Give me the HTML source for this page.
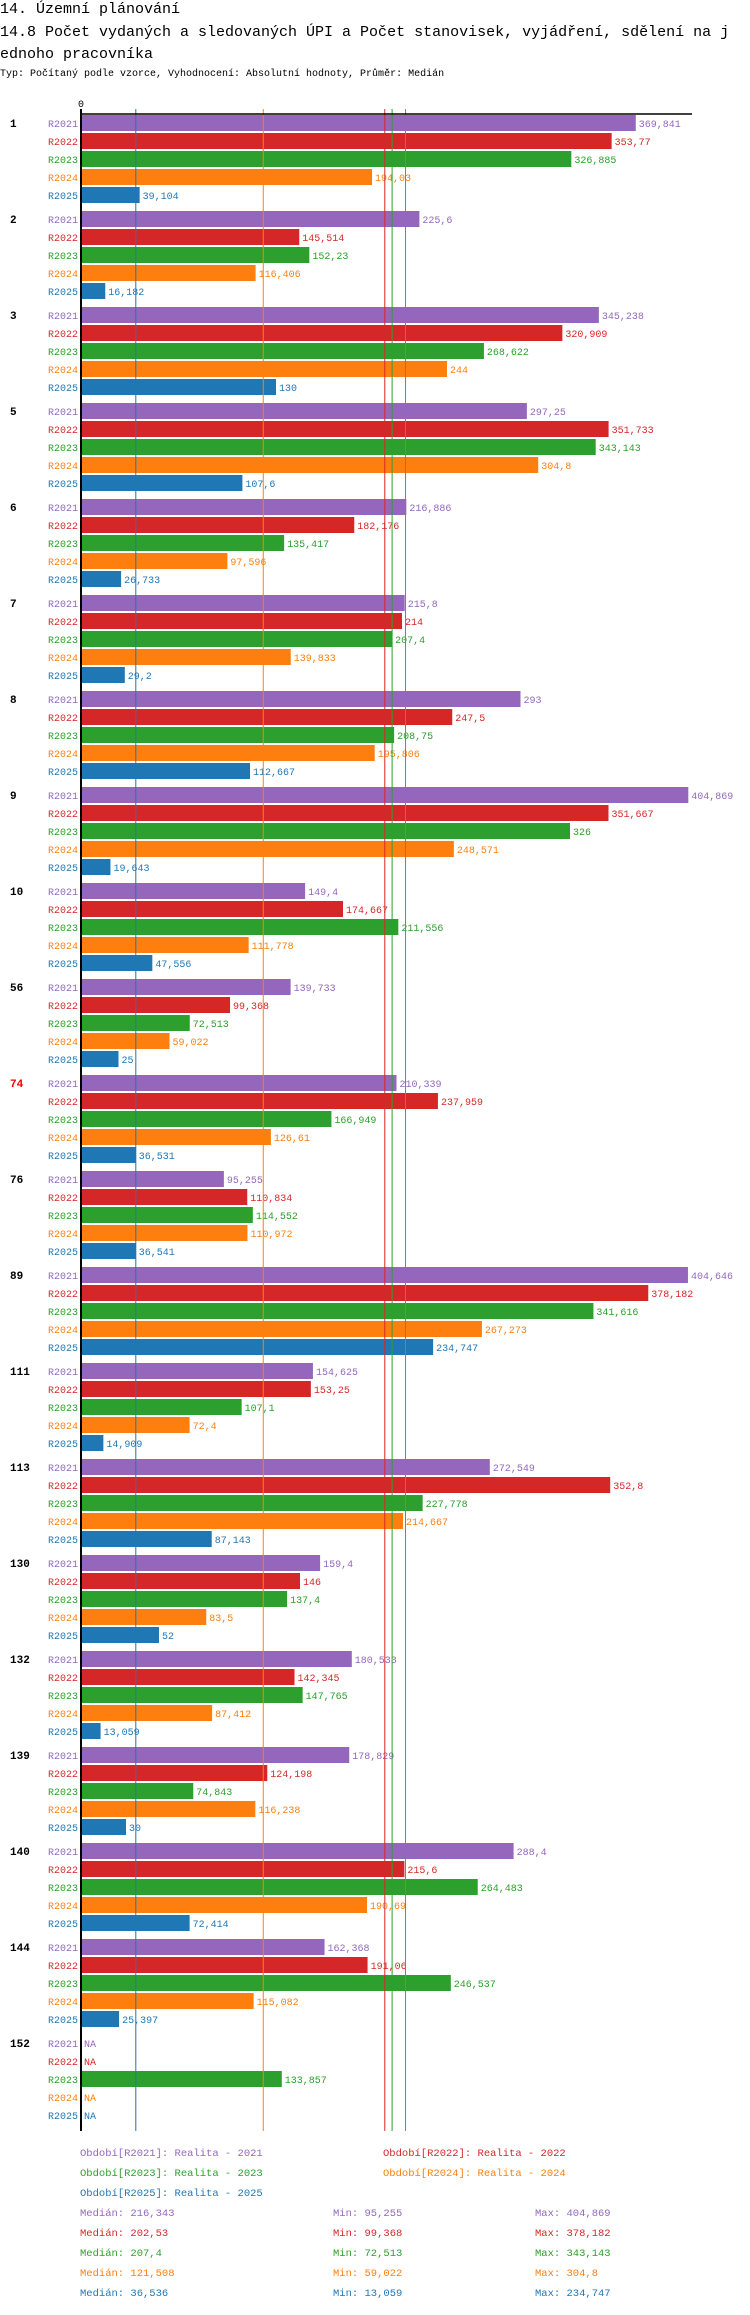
<!DOCTYPE html>
<html><head><meta charset="utf-8"><style>
body{margin:0;background:#fff;width:750px;height:2310px;overflow:hidden}
svg text{font-family:"Liberation Mono",monospace}
</style></head><body>
<svg id="c" width="750" height="2310" xmlns="http://www.w3.org/2000/svg">
<text x="0" y="13" font-size="15">14. Územní plánování</text>
<text x="0" y="36" font-size="15">14.8 Počet vydaných a sledovaných ÚPI a Počet stanovisek, vyjádření, sdělení na j</text>
<text x="0" y="58" font-size="15">ednoho pracovníka</text>
<text x="0" y="76" font-size="10">Typ: Počítaný podle vzorce, Vyhodnocení: Absolutní hodnoty, Průměr: Medián</text>
<text x="78" y="107" font-size="10">0</text>
</svg>
<script>
const categories=["1","2","3","5","6","7","8","9","10","56","74","76","89","111","113","130","132","139","140","144","152"];
const r2021=[369.841,225.6,345.238,297.25,216.886,215.8,293,404.869,149.4,139.733,210.339,95.255,404.646,154.625,272.549,159.4,180.533,178.829,288.4,162.368,null];
const r2022=[353.77,145.514,320.909,351.733,182.176,214,247.5,351.667,174.667,99.368,237.959,110.834,378.182,153.25,352.8,146,142.345,124.198,215.6,191.06,null];
const r2023=[326.885,152.23,268.622,343.143,135.417,207.4,208.75,326,211.556,72.513,166.949,114.552,341.616,107.1,227.778,137.4,147.765,74.843,264.483,246.537,133.857];
const r2024=[194.03,116.406,244,304.8,97.596,139.833,195.806,248.571,111.778,59.022,126.61,110.972,267.273,72.4,214.667,83.5,87.412,116.238,190.69,115.082,null];
const r2025=[39.104,16.182,130,107.6,26.733,29.2,112.667,19.643,47.556,25,36.531,36.541,234.747,14.909,87.143,52,13.059,30,72.414,25.397,null];
const seriesNames=["R2021","R2022","R2023","R2024","R2025"];
const seriesColors=["#9467bd","#d62728","#2ca02c","#ff7f0e","#1f77b4"];
const medians=[216.343,202.53,207.4,121.508,36.536];
const mins=[95.255,99.368,72.513,59.022,13.059];
const maxs=[404.869,378.182,343.143,304.8,234.747];
const highlighted=["74"];
const series=[r2021,r2022,r2023,r2024,r2025];
const svg=document.getElementById('c');
const NS='http://www.w3.org/2000/svg';
const X0=81,K=1.5;
const xs=v=>X0+v*K;
const rowY=(g,s)=>123+g*96+s*18;
const fmt=v=>String(v).replace('.',',');
function mk(tag,attrs,txt){const e=document.createElementNS(NS,tag);for(const k in attrs)e.setAttribute(k,attrs[k]);if(txt!=null)e.textContent=txt;svg.appendChild(e);return e;}
categories.forEach((c,g)=>{
  const t=mk('text',{x:10,y:rowY(g,0)+4,'font-size':11,'font-weight':'bold',fill:highlighted.includes(c)?'#e00':'#000'},c);
  
  
  series.forEach((arr,s)=>{
    const y=rowY(g,s),v=arr[g],col=seriesColors[s];
    const l=mk('text',{x:78,y:y+4,'font-size':10,fill:col,'text-anchor':'end'},seriesNames[s]);
    
    
    if(v==null){
      const n=mk('text',{x:84,y:y+4,'font-size':10,fill:col},'NA');
      
      
    }else{
      const b=mk('rect',{x:X0,y:y-8,width:xs(v)-X0,height:16,fill:col});
      
      
      const vl=mk('text',{x:xs(v)+3,y:y+4,'font-size':10,fill:col},fmt(v));
      
      
    }
  });
});
medians.forEach((m,s)=>{
  const ln=mk('line',{x1:xs(m),x2:xs(m),y1:109,y2:2131,stroke:seriesColors[s],'stroke-width':1});
  
  
});
const ax=mk('line',{x1:X0,x2:X0,y1:109,y2:2131,stroke:'#000','stroke-width':2});


const tx=mk('line',{x1:X0,x2:692,y1:114,y2:114,stroke:'#000','stroke-width':1.5});


const legPos=[[80,2156],[383,2156],[80,2176],[383,2176],[80,2196]];
seriesNames.forEach((n,s)=>{
  const t=mk('text',{x:legPos[s][0],y:legPos[s][1],'font-size':10.5,fill:seriesColors[s]},'Období['+n+']: Realita - '+n.slice(1));
  
  
  const y=2216+s*20;
  const a=mk('text',{x:80,y:y,'font-size':10.5,fill:seriesColors[s]},'Medián: '+fmt(medians[s]));
  
  
  const b=mk('text',{x:333,y:y,'font-size':10.5,fill:seriesColors[s]},'Min: '+fmt(mins[s]));
  
  
  const c=mk('text',{x:535,y:y,'font-size':10.5,fill:seriesColors[s]},'Max: '+fmt(maxs[s]));
  
  
});
</script>
</body></html>
